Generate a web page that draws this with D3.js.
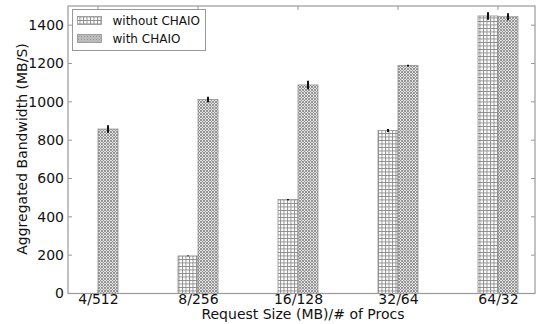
<!DOCTYPE html>
<html>
<head>
<meta charset="utf-8">
<script src="https://cdn.jsdelivr.net/npm/d3@7"></script>
<style>
  body { margin: 0; background: #fff; }
  svg text { font-family: "DejaVu Sans", sans-serif; }
</style>
</head>
<body>
<svg width="540" height="324"></svg>
<script>
// categories and series
var categories = ["4/512", "8/256", "16/128", "32/64", "64/32"];
var without_vals = [0, 196, 490, 850, 1448];
var without_err = [0, 2, 3, 8, 20];
var with_vals = [858, 1012, 1088, 1189, 1444];
var with_err = [20, 14, 22, 4, 18];
var yTicks = [0, 200, 400, 600, 800, 1000, 1200, 1400];

var svg = d3.select("svg");
var plotL = 68, plotR = 535, plotT = 6, plotB = 293.5;

var x = d3.scaleLinear().domain([-0.3, 4.37]).range([plotL, plotR]);
var y = d3.scaleLinear().domain([0, 1500]).range([plotB, plotT]);
var bw = 0.2;

// hatch patterns
var defs = svg.append("defs");
var p1 = defs.append("pattern").attr("id", "grid")
    .attr("patternUnits", "userSpaceOnUse").attr("width", 3.5).attr("height", 3.5);
p1.append("rect").attr("width", 3.5).attr("height", 3.5).attr("fill", "#fff");
p1.append("path").attr("d", "M0,0.5H3.5M0.5,0V3.5")
    .attr("stroke", "#8a8a8a").attr("stroke-width", 0.9);

var p2 = defs.append("pattern").attr("id", "cross")
    .attr("patternUnits", "userSpaceOnUse").attr("width", 3).attr("height", 3);
p2.append("rect").attr("width", 3).attr("height", 3).attr("fill", "#e4e4e4");
p2.append("path").attr("d", "M0,0L3,3M3,0L0,3")
    .attr("stroke", "#8c8c8c").attr("stroke-width", 0.9);

// bars
function drawSeries(vals, errs, offset, fill) {
  var g = svg.append("g");
  vals.forEach(function(v, i) {
    if (v <= 0) return;
    g.append("rect")
      .attr("x", x(i + offset))
      .attr("y", y(v))
      .attr("width", x(i + offset + bw) - x(i + offset))
      .attr("height", y(0) - y(v))
      .attr("fill", fill)
      .attr("stroke", "#909090")
      .attr("stroke-width", 0.8);
  });
  vals.forEach(function(v, i) {
    if (v <= 0) return;
    var cx = x(i + offset + bw / 2);
    g.append("line")
      .attr("x1", cx).attr("x2", cx)
      .attr("y1", y(v - errs[i])).attr("y2", y(v + errs[i]))
      .attr("stroke", "#111").attr("stroke-width", 2);
  });
}
drawSeries(without_vals, without_err, -bw, "url(#grid)");
drawSeries(with_vals, with_err, 0, "url(#cross)");

// frame
svg.append("rect")
  .attr("x", plotL).attr("y", plotT)
  .attr("width", plotR - plotL).attr("height", plotB - plotT)
  .attr("fill", "none").attr("stroke", "#999").attr("stroke-width", 1.2);

// y axis
var yAxis = svg.append("g").attr("transform", "translate(" + plotL + ",0)")
  .call(d3.axisLeft(y).tickValues(yTicks).tickFormat(d3.format("d"))
    .tickSize(0).tickPadding(4));
yAxis.select(".domain").remove();
yAxis.selectAll("text").attr("font-size", 14).attr("fill", "#111");
yTicks.forEach(function(t) {
  svg.append("line").attr("x1", plotL).attr("x2", plotL + 4)
    .attr("y1", y(t)).attr("y2", y(t)).attr("stroke", "#999");
  svg.append("line").attr("x1", plotR).attr("x2", plotR - 4)
    .attr("y1", y(t)).attr("y2", y(t)).attr("stroke", "#999");
});

// x axis
var xAxis = svg.append("g").attr("transform", "translate(0," + plotB + ")")
  .call(d3.axisBottom(x).tickValues(d3.range(categories.length))
    .tickFormat(function(d) { return categories[d]; }).tickSize(0).tickPadding(1));
xAxis.select(".domain").remove();
xAxis.selectAll("text").attr("font-size", 14).attr("fill", "#111");
categories.forEach(function(c, i) {
  svg.append("line").attr("x1", x(i)).attr("x2", x(i))
    .attr("y1", plotB).attr("y2", plotB - 4).attr("stroke", "#999");
  svg.append("line").attr("x1", x(i)).attr("x2", x(i))
    .attr("y1", plotT).attr("y2", plotT + 4).attr("stroke", "#999");
});

// axis labels
svg.append("text")
  .attr("x", 303).attr("y", 319)
  .attr("text-anchor", "middle").attr("font-size", 14).attr("fill", "#111")
  .text("Request Size (MB)/# of Procs");
svg.append("text")
  .attr("transform", "translate(27,149) rotate(-90)")
  .attr("text-anchor", "middle").attr("font-size", 14).attr("fill", "#111")
  .text("Aggregated Bandwidth (MB/S)");

// legend
var lg = svg.append("g").attr("transform", "translate(72.5,9.5)");
lg.append("rect").attr("width", 133).attr("height", 41)
  .attr("fill", "#fff").attr("stroke", "#999").attr("stroke-width", 1);
var legendItems = [["without CHAIO", "url(#grid)"], ["with CHAIO", "url(#cross)"]];
legendItems.forEach(function(d, i) {
  lg.append("rect").attr("x", 5).attr("y", 7 + i * 18)
    .attr("width", 24).attr("height", 8)
    .attr("fill", d[1]).attr("stroke", "#909090").attr("stroke-width", 0.8);
  lg.append("text").attr("x", 40).attr("y", 15.5 + i * 18)
    .attr("font-size", 12).attr("fill", "#111").text(d[0]);
});
</script>
</body>
</html>
